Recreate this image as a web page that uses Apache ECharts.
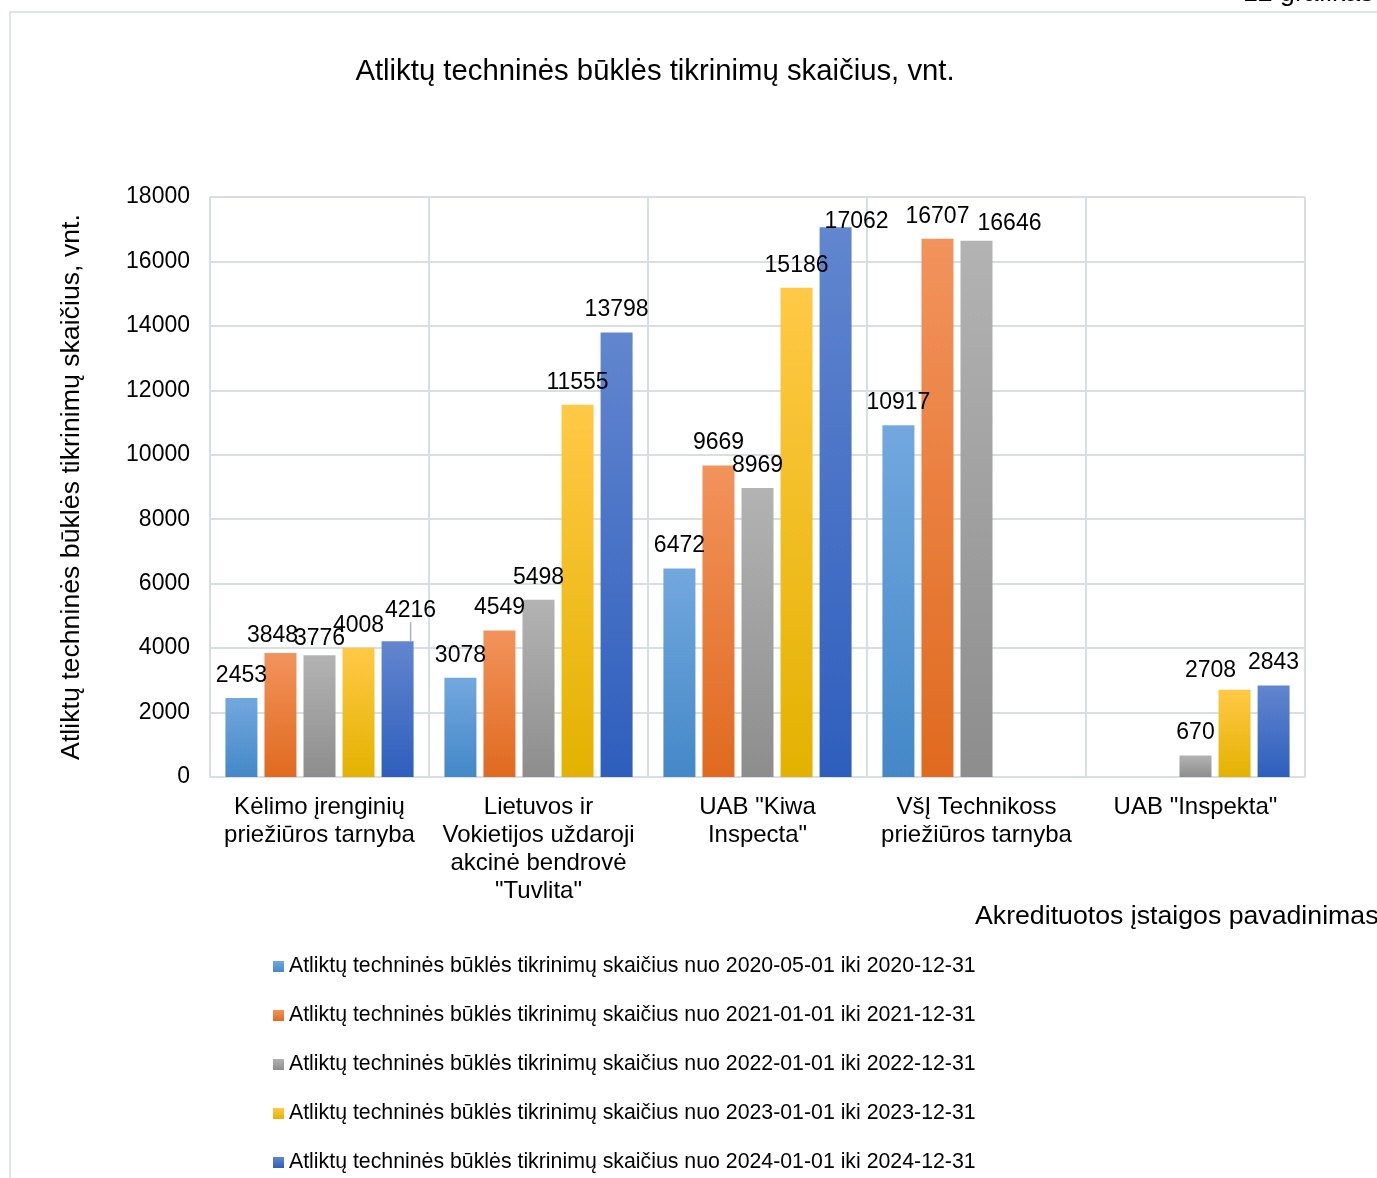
<!DOCTYPE html>
<html>
<head>
<meta charset="utf-8">
<script src="https://cdn.jsdelivr.net/npm/echarts@6/dist/echarts.min.js"></script>
<style>
html,body{margin:0;padding:0;background:#fff;}
#chart{width:1377px;height:1178px;}
</style>
</head>
<body>
<div id="chart"></div>
<script>
const categories = [
  'Kėlimo įrenginių\npriežiūros tarnyba',
  'Lietuvos ir\nVokietijos uždaroji\nakcinė bendrovė\n"Tuvlita"',
  'UAB "Kiwa\nInspecta"',
  'VšĮ Technikoss\npriežiūros tarnyba',
  'UAB "Inspekta"'
];
const seriesNames = [
  'Atliktų techninės būklės tikrinimų skaičius nuo 2020-05-01 iki 2020-12-31',
  'Atliktų techninės būklės tikrinimų skaičius nuo 2021-01-01 iki 2021-12-31',
  'Atliktų techninės būklės tikrinimų skaičius nuo 2022-01-01 iki 2022-12-31',
  'Atliktų techninės būklės tikrinimų skaičius nuo 2023-01-01 iki 2023-12-31',
  'Atliktų techninės būklės tikrinimų skaičius nuo 2024-01-01 iki 2024-12-31'
];
const values2020 = [2453, 3078, 6472, 10917, null];
const values2021 = [3848, 4549, 9669, 16707, null];
const values2022 = [3776, 5498, 8969, 16646, 670];
const values2023 = [4008, 11555, 15186, null, 2708];
const values2024 = [4216, 13798, 17062, null, 2843];
const yTicks = { min: 0, max: 18000, interval: 2000 };

// styling (not data)
const gradients = [
  ['#72a8de', '#4488c8'],
  ['#f2935c', '#e06a1f'],
  ['#b3b3b3', '#8d8d8d'],
  ['#ffc946', '#e3b200'],
  ['#6286cf', '#2e5ebd']
];
// label nudges: "series-category": [dx, dy]
const labelNudges = {
  '1-0': [-8, 5],
  '2-0': [0, 6],
  '4-0': [13, -8],
  '4-2': [21, 17],
  '2-3': [33, 6],
  '3-4': [-24, 3]
};
const leaderLines = { '4-0': true };

const FONT = '"Liberation Sans", Arial, sans-serif';
const allValues = [values2020, values2021, values2022, values2023, values2024];

const series = allValues.map((vals, si) => ({
  name: seriesNames[si],
  type: 'bar',
  barWidth: 32,
  barGap: '22%',
  itemStyle: {
    color: new echarts.graphic.LinearGradient(0, 0, 0, 1, [
      { offset: 0, color: gradients[si][0] },
      { offset: 1, color: gradients[si][1] }
    ])
  },
  label: {
    show: true,
    position: 'top',
    distance: 11,
    color: '#000',
    fontFamily: FONT,
    fontSize: 23
  },
  labelLine: { show: false, lineStyle: { color: '#a6b3c6', width: 1.5 } },
  data: vals.map((v, ci) => {
    const item = { value: v };
    if (leaderLines[si + '-' + ci]) item.labelLine = { show: true, length2: 0, smooth: false, lineStyle: { color: '#a6b3c6', width: 1.5 } };
    return item;
  })
}));

const chart = echarts.init(document.getElementById('chart'));
chart.setOption({
  animation: false,
  backgroundColor: '#fff',
  textStyle: { fontFamily: FONT },
  title: {
    text: 'Atliktų techninės būklės tikrinimų skaičius, vnt.',
    left: 650,
    textAlign: 'center',
    top: 52,
    textStyle: { fontFamily: FONT, fontSize: 29.3, fontWeight: 'normal', color: '#000' }
  },
  legend: {
    orient: 'vertical',
    left: 268,
    top: 951,
    itemWidth: 11,
    itemHeight: 11,
    itemGap: 28,
    icon: 'rect',
    textStyle: { fontFamily: FONT, fontSize: 21.3, color: '#000' },
    data: seriesNames
  },
  grid: { left: 210, right: 72, top: 197, bottom: 401, containLabel: false, outerBoundsMode: 'none' },
  xAxis: {
    type: 'category',
    data: categories,
    axisLine: { show: true, lineStyle: { color: '#d9dde4', width: 2 } },
    axisTick: { show: false },
    splitLine: { show: true, lineStyle: { color: '#d9dde4', width: 2 } },
    axisLabel: {
      interval: 0,
      margin: 16,
      color: '#000',
      fontFamily: FONT,
      fontSize: 24,
      lineHeight: 28
    }
  },
  yAxis: {
    type: 'value',
    min: yTicks.min,
    max: yTicks.max,
    interval: yTicks.interval,
    name: 'Atliktų techninės būklės tikrinimų skaičius, vnt.',
    nameLocation: 'middle',
    nameGap: 125,
    nameRotate: 90,
    nameTextStyle: { fontFamily: FONT, fontSize: 26.7, color: '#000' },
    axisLine: { show: false },
    axisTick: { show: false },
    splitLine: { show: true, lineStyle: { color: '#d9dde4', width: 2 } },
    axisLabel: {
      margin: 20, color: '#000', fontFamily: FONT, fontSize: 23,
      formatter: function (v) { return String(v); }
    }
  },
  labelLayout: function (params) {
    const key = params.seriesIndex + '-' + params.dataIndex;
    const n = labelNudges[key];
    if (n) return { dx: n[0], dy: n[1] };
    return {};
  },
  graphic: [
    {
      type: 'rect',
      shape: { x: 10, y: 12, width: 1400, height: 1200 },
      style: { fill: 'none', stroke: '#dfe3ea', lineWidth: 2 },
      silent: true, z: -1
    },
    {
      type: 'text',
      left: 1243,
      top: -20,
      style: { text: '12 grafikas', fontFamily: FONT, fontSize: 26.7, fill: '#000' }
    },
    {
      type: 'text',
      left: 975,
      top: 903,
      style: { text: 'Akredituotos įstaigos pavadinimas', fontFamily: FONT, fontSize: 26.7, fill: '#000' }
    }
  ],
  series: series
});
</script>
</body>
</html>
